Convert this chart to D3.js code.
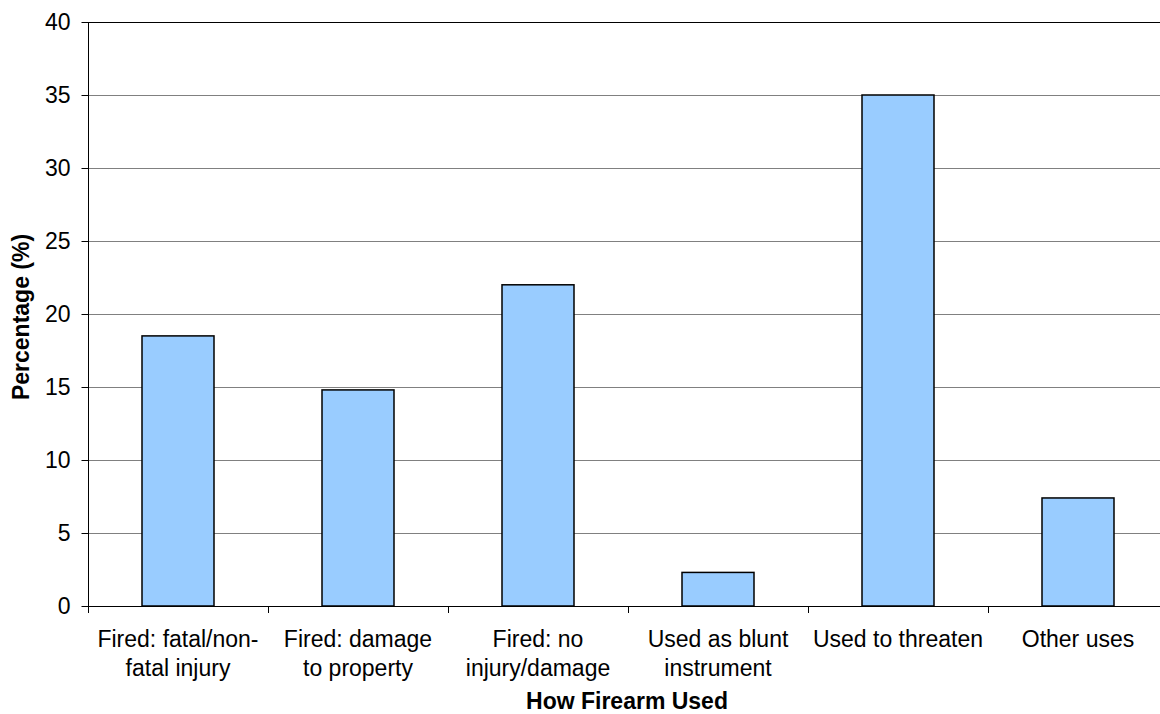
<!DOCTYPE html>
<html>
<head>
<meta charset="utf-8">
<script src="https://cdn.jsdelivr.net/npm/d3@7"></script>
<style>
  html, body { margin: 0; padding: 0; background: #fff; }
  svg { display: block; }
  text { font-family: "Liberation Sans", Arial, sans-serif; fill: #000; }
</style>
</head>
<body>
<svg id="chart" width="1160" height="714"></svg>
<script>
const categories = [
  ["Fired: fatal/non-", "fatal injury"],
  ["Fired: damage", "to property"],
  ["Fired: no", "injury/damage"],
  ["Used as blunt", "instrument"],
  ["Used to threaten"],
  ["Other uses"]
];
const values = [18.5, 14.8, 22.0, 2.3, 35.0, 7.4];
const yTicks = [0, 5, 10, 15, 20, 25, 30, 35, 40];
const yTitle = "Percentage (%)";
const xTitle = "How Firearm Used";

(function () {
const svg = d3.select("#chart");
const pLeft = 88, pRight = 1168, pTop = 22, pBottom = 606;
const fs = "23px";

const keys = categories.map((c, i) => "c" + i);
const x = d3.scaleBand().domain(keys).range([pLeft, pRight])
  .paddingInner(0.6).paddingOuter(0.3);
const y = d3.scaleLinear().domain([0, 40]).range([pBottom, pTop]);

// gridlines
svg.append("g").selectAll("line").data(yTicks.filter(t => t > 0)).join("line")
  .attr("x1", pLeft).attr("x2", pRight)
  .attr("y1", d => y(d) + 0.5).attr("y2", d => y(d) + 0.5)
  .attr("stroke", d => d === 40 ? "#000" : "#808080")
  .attr("stroke-width", 1);

// bars
svg.append("g").selectAll("rect").data(values).join("rect")
  .attr("x", (d, i) => x(keys[i]))
  .attr("y", d => y(d))
  .attr("width", x.bandwidth())
  .attr("height", d => y(0) - y(d))
  .attr("fill", "#99CCFF")
  .attr("stroke", "#000")
  .attr("stroke-width", 1.5);

// y axis
const yAxis = d3.axisLeft(y).tickValues(yTicks).tickSize(7).tickPadding(11);
const gy = svg.append("g").attr("transform", `translate(${pLeft + 0.5},0)`).call(yAxis);
gy.select(".domain").attr("stroke", "#000").attr("d", `M0,${pTop}V${pBottom}`);
gy.selectAll(".tick line").attr("stroke", "#000");
gy.selectAll(".tick text").style("font-size", fs).style("font-family", "Liberation Sans, Arial, sans-serif").attr("fill", "#000");

// x axis baseline
svg.append("line").attr("x1", pLeft).attr("x2", pRight)
  .attr("y1", pBottom + 0.5).attr("y2", pBottom + 0.5).attr("stroke", "#000");

// x ticks at category boundaries
const bounds = keys.map(k => x(k) - x.step() * x.paddingOuter());
svg.append("g").selectAll("line").data(bounds).join("line")
  .attr("x1", d => d + 0.5).attr("x2", d => d + 0.5)
  .attr("y1", pBottom).attr("y2", pBottom + 7)
  .attr("stroke", "#000");

// category labels
const lab = svg.append("g").selectAll("text").data(categories).join("text")
  .attr("text-anchor", "middle")
  .style("font-size", fs)
  .attr("x", (d, i) => x(keys[i]) + x.bandwidth() / 2)
  .attr("y", 647);
lab.selectAll("tspan").data(d => d).join("tspan")
  .attr("x", function() { return d3.select(this.parentNode).attr("x"); })
  .attr("dy", (d, i) => i === 0 ? 0 : 28.5)
  .text(d => d);

// axis titles
svg.append("text").attr("x", 627).attr("y", 709)
  .attr("text-anchor", "middle").style("font-size", fs).style("font-weight", "bold")
  .text(xTitle);
svg.append("text").attr("transform", `translate(29,317) rotate(-90)`)
  .attr("text-anchor", "middle").style("font-size", fs).style("font-weight", "bold")
  .text(yTitle);
})();
</script>
</body>
</html>
